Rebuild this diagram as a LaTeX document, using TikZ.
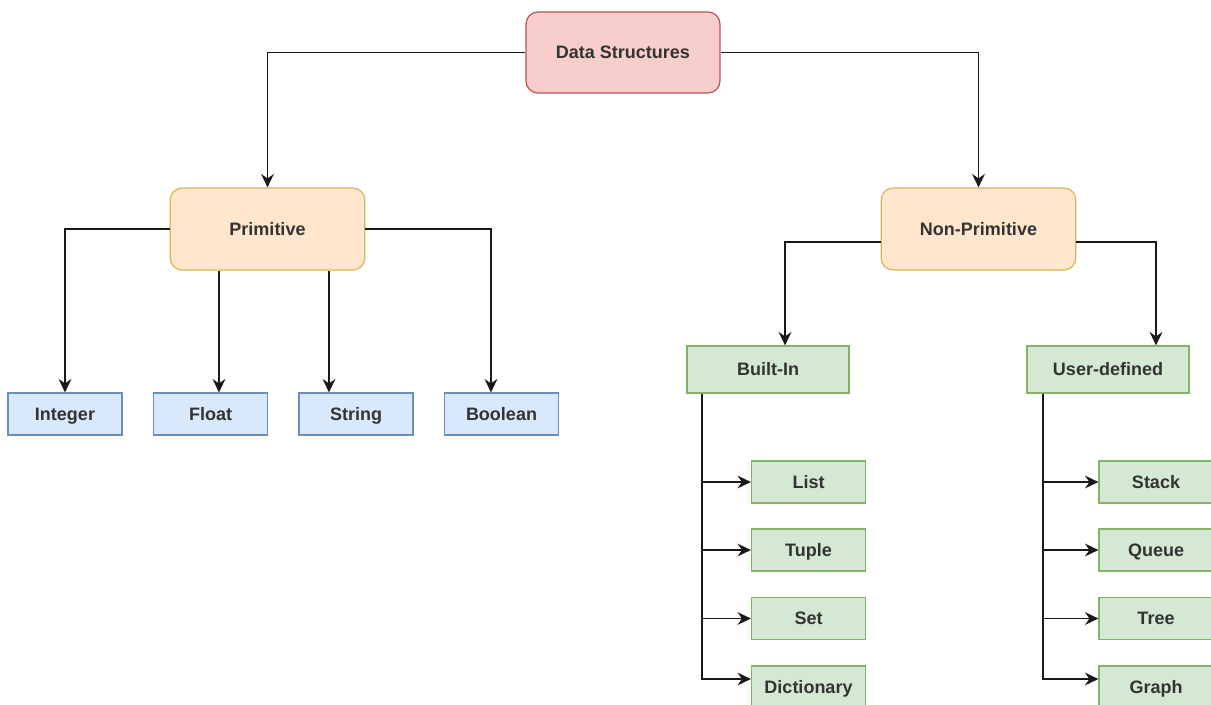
\documentclass[tikz,border=0pt]{standalone}
\usepackage{fontspec}
\setmainfont{Liberation Sans}
\usepackage{xcolor}
\usetikzlibrary{arrows.meta, positioning, calc}
\definecolor{rootfill}{RGB}{248,206,204}
\definecolor{rootline}{RGB}{184,84,80}
\definecolor{kindfill}{RGB}{255,230,204}
\definecolor{kindline}{RGB}{214,182,86}
\definecolor{primfill}{RGB}{218,232,252}
\definecolor{primline}{RGB}{108,142,191}
\definecolor{compfill}{RGB}{213,232,212}
\definecolor{compline}{RGB}{130,179,102}
\definecolor{textgray}{RGB}{51,51,51}
\tikzset{>=stealth,
  box/.style={draw, line width=0.9pt, text=textgray, text height=9.5pt, text depth=0pt,
    font=\fontsize{13.5}{15}\selectfont\bfseries},
  rootbox/.style={box, fill=rootfill, draw=rootline, rounded corners=9pt,
    minimum width=145.5pt, minimum height=60.75pt},
  kindbox/.style={box, fill=kindfill, draw=kindline, rounded corners=9pt,
    minimum width=146pt, minimum height=61.5pt},
  primbox/.style={box, fill=primfill, draw=primline,
    minimum width=85.5pt, minimum height=31.5pt},
  groupbox/.style={box, fill=compfill, draw=compline,
    minimum width=121.5pt, minimum height=35.25pt},
  leafbox/.style={box, fill=compfill, draw=compline,
    minimum width=85.5pt, minimum height=31.5pt},
  link/.style={draw=black!90, line width=1.4pt, -{Stealth[length=10pt,width=9.5pt]}}}

\begin{document}
\begin{tikzpicture}[x=0.75pt, y=-0.75pt]
    \useasboundingbox (0,0) rectangle (1211,704);
    \clip (0,0) rectangle (1211,704);
    % root
    \node[rootbox] (ds) at (623,52.5) {Data Structures};
    % two kinds
    \node[kindbox] (prim) at (267.5,229) {Primitive};
    \node[kindbox] (nonprim) at (978.5,229) {Non-Primitive};
    % primitive types
    \node[primbox] (int) at (65,414) {Integer};
    \node[primbox] (flt) at (210.5,414) {Float};
    \node[primbox] (str) at (356,414) {String};
    \node[primbox] (bool) at (501.5,414) {Boolean};
    % non-primitive groups
    \node[groupbox] (builtin) at (768,369.5) {Built-In};
    \node[groupbox] (user) at (1108,369.5) {User-defined};
    % built-in types
    \node[leafbox] (list) at (808.5,482) {List};
    \node[leafbox] (tuple) at (808.5,550) {Tuple};
    \node[leafbox] (set) at (808.5,618.5) {Set};
    \node[leafbox] (dict) at (808.5,687) {Dictionary};
    % user-defined types
    \node[leafbox] (stack) at (1156,482) {Stack};
    \node[leafbox] (queue) at (1156,550) {Queue};
    \node[leafbox] (tree) at (1156,618.5) {Tree};
    \node[leafbox] (graph) at (1156,687) {Graph};
    % root to kinds
    \draw[link] (ds.west) -| (prim.north);
    \draw[link] (ds.east) -| (nonprim.north);
    % primitive branches
    \draw[link] (prim.west) -| (int.north);
    \draw[link] ([xshift=-36.4pt]prim.south) -- ([xshift=-36.4pt]prim.south |- flt.north);
    \draw[link] ([xshift=46.1pt]prim.south) -- ([xshift=46.1pt]prim.south |- str.north);
    \draw[link] (prim.east) -| ([xshift=-7.9pt]bool.north);
    % non-primitive branches
    \draw[link] ([yshift=-9.75pt]nonprim.west) -| ([xshift=12.75pt]builtin.north);
    \draw[link] ([yshift=-9.75pt]nonprim.east) -| ([xshift=36pt]user.north);
    % built-in list
    \foreach \leaf in {list, tuple, set}
      \draw[link] ([xshift=12pt]builtin.south west) |- (\leaf.west);
    \draw[link] ([xshift=12pt]builtin.south west) |- ([yshift=6pt]dict.west);
    % user-defined list
    \foreach \leaf in {stack, queue, tree}
      \draw[link] ([xshift=12.75pt]user.south west) |- (\leaf.west);
    \draw[link] ([xshift=12.75pt]user.south west) |- ([yshift=6pt]graph.west);
\end{tikzpicture}
\end{document}
